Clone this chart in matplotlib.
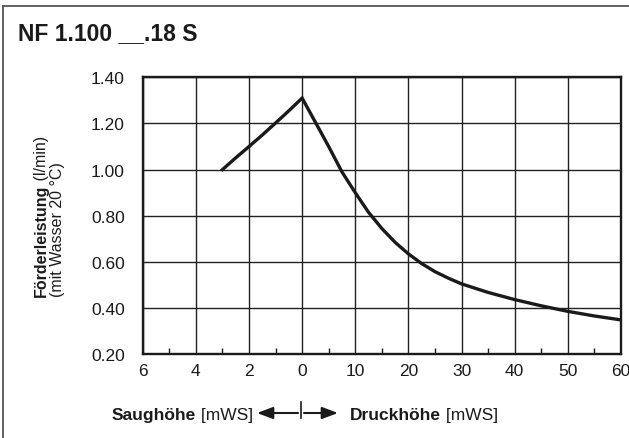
import matplotlib
matplotlib.use("Agg")
import matplotlib.pyplot as plt
from matplotlib.lines import Line2D

# Data
suction_m = [3, 2.5, 2, 1.5, 1, 0.5, 0]
suction_flow = [1.00, 1.051, 1.10, 1.15, 1.202, 1.255, 1.31]
pressure_m = [0, 2.5, 5, 7.5, 10, 12.5, 15, 17.5, 20, 22.5, 25, 27.5, 30,
              35, 40, 45, 50, 55, 60]
pressure_flow = [1.31, 1.205, 1.10, 0.99, 0.90, 0.815, 0.745, 0.685, 0.635, 0.593,
                 0.558, 0.53, 0.505, 0.468, 0.437, 0.41, 0.386, 0.366, 0.349]
x_tick_labels = ["6", "4", "2", "0", "10", "20", "30", "40", "50", "60"]
y_ticks = [0.20, 0.40, 0.60, 0.80, 1.00, 1.20, 1.40]

plt.rcParams["font.family"] = ["Liberation Sans", "DejaVu Sans"]

W, H = 629, 439


def fx(px):
    return px / W


def fy(py):
    return 1 - py / H


# suction side: 2 m per grid cell, pressure side: 10 m per grid cell
def u_suction(s):
    return (6 - s) / 2


def u_pressure(p):
    return 3 + p / 10


xs = [u_suction(s) for s in suction_m] + [u_pressure(p) for p in pressure_m[1:]]
ys = suction_flow + pressure_flow[1:]

fig = plt.figure(figsize=(W / 100, H / 100), dpi=100)
ax = fig.add_axes([fx(142.7), fy(355.3), fx(621) - fx(142.7), fy(78.3) - fy(355.3)])

ax.plot(xs, ys, color="#1a1a1a", lw=2.4, solid_joinstyle="miter", zorder=3)

ax.set_xlim(0, 9)
ax.set_ylim(0.2, 1.4)
ax.set_xticks(range(10))
ax.set_xticklabels(x_tick_labels)
ax.set_xticks([i + 0.5 for i in range(9)], minor=True)
ax.set_yticks(y_ticks)
ax.set_yticklabels([f"{v:.2f}" for v in y_ticks])
ax.grid(True, which="major", color="#222222", lw=1.0)
ax.tick_params(axis="both", which="major", length=0, labelsize=12.5, colors="#1a1a1a")
ax.tick_params(axis="x", which="major", pad=6)
ax.tick_params(axis="y", which="major", pad=13)
ax.tick_params(axis="x", which="minor", direction="in", length=4, width=1, color="#1a1a1a")
ax.tick_params(axis="y", which="minor", length=0)
for sp in ax.spines.values():
    sp.set_linewidth(1.7)
    sp.set_color("#1a1a1a")

# outer frame (top and left only)
fig.add_artist(Line2D([fx(3), fx(3)], [fy(7), 0], color="#555555", lw=1.3))
fig.add_artist(Line2D([fx(3), 1], [fy(7), fy(7)], color="#555555", lw=1.3))

# title
fig.text(fx(18), fy(40), "NF 1.100 __.18 S", fontsize=16.5, fontweight="bold",
         color="#1a1a1a", va="baseline", ha="left")

renderer = fig.canvas.get_renderer()
fs = 12.5
fs_y = 11.5

# y label (rotated, two lines)
t1 = fig.text(fx(41), fy(297), "Förderleistung", rotation=90, fontsize=fs_y, fontweight="bold",
              color="#1a1a1a", ha="center", va="bottom")
h1 = t1.get_window_extent(renderer).height
fig.text(fx(41.5), fy(297) + h1 / H, " (l/min)", rotation=90, fontsize=fs_y,
         color="#1a1a1a", ha="center", va="bottom")
fig.text(fx(57.5), fy(297), "(mit Wasser 20 °C)", rotation=90, fontsize=fs_y,
         color="#1a1a1a", ha="center", va="bottom")

# x label with arrows
base = fy(420.5)
t = fig.text(fx(112), base, "Saughöhe", fontsize=fs, fontweight="bold", color="#1a1a1a",
             va="baseline", ha="left")
w = t.get_window_extent(renderer).width
fig.text(fx(112) + w / W, base, " [mWS]", fontsize=fs, color="#1a1a1a", va="baseline", ha="left")
t = fig.text(fx(350), base, "Druckhöhe", fontsize=fs, fontweight="bold", color="#1a1a1a",
             va="baseline", ha="left")
w = t.get_window_extent(renderer).width
fig.text(fx(350) + w / W, base, " [mWS]", fontsize=fs, color="#1a1a1a", va="baseline", ha="left")

arrow_y = fy(414)
aprops = dict(arrowstyle="-|>,head_length=0.8,head_width=0.3", lw=1.5, color="#1a1a1a",
              mutation_scale=12, shrinkA=0, shrinkB=0)
fig.add_artist(Line2D([fx(301), fx(301)], [fy(403), fy(419)], color="#1a1a1a", lw=1.2))
ax.annotate("", xy=(fx(257), arrow_y), xytext=(fx(298), arrow_y),
            xycoords="figure fraction", textcoords="figure fraction", arrowprops=aprops)
ax.annotate("", xy=(fx(338), arrow_y), xytext=(fx(304), arrow_y),
            xycoords="figure fraction", textcoords="figure fraction", arrowprops=aprops)

fig.savefig("out.png", dpi=100)
